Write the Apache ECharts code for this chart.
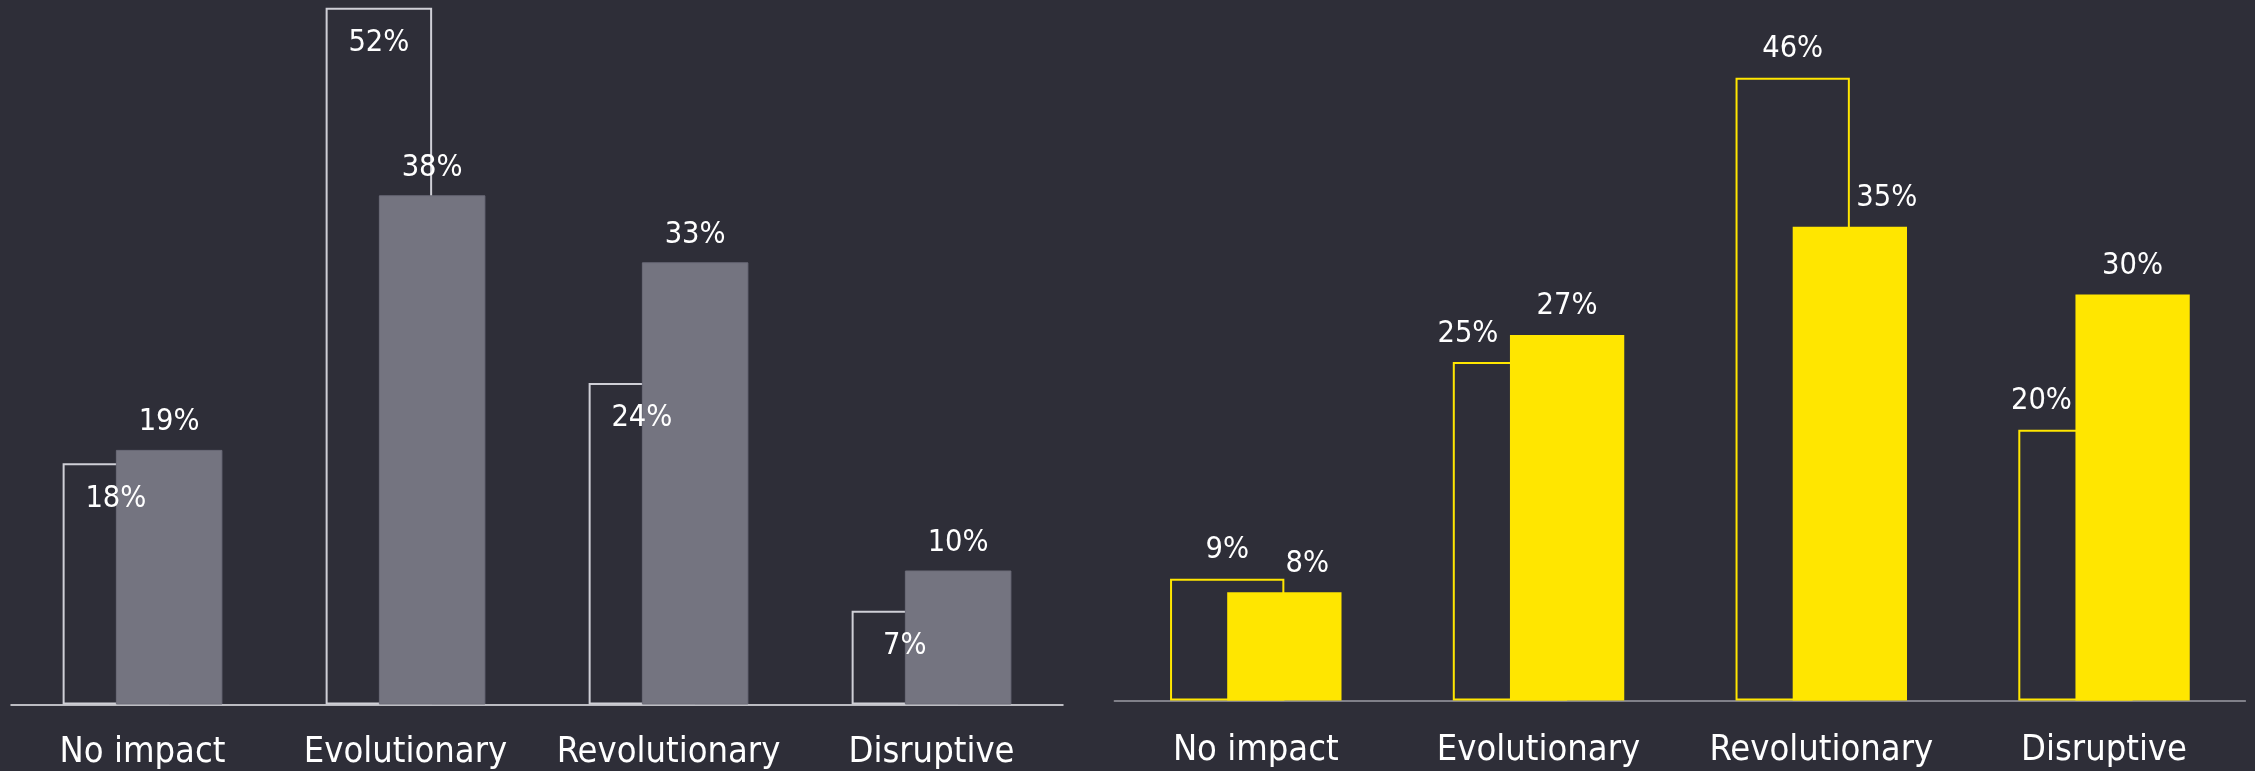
<!DOCTYPE html>
<html>
<head>
<meta charset="utf-8">
<script src="https://cdn.jsdelivr.net/npm/echarts@6/dist/echarts.min.js"></script>
<style>
  html, body { margin: 0; padding: 0; background: #2e2e38; }
  #chart { width: 2255px; height: 771px; }
</style>
</head>
<body>
<div id="chart"></div>
<script>
// ---- Data ----
const categories = ['No impact', 'Evolutionary', 'Revolutionary', 'Disruptive'];
const leftOutline  = [18, 52, 24, 7];
const leftFilled   = [19, 38, 33, 10];
const rightOutline = [9, 25, 46, 20];
const rightFilled  = [8, 27, 35, 30];

// ---- Style (label nudges to avoid overlaps) ----
const rightOutlineLabelDx = [0, -42, 0, -34];
const rightFilledLabelDx  = [23, 0, 37, 0];

const FONT = "'DejaVu Sans Condensed', 'DejaVu Sans', sans-serif";
const pct = p => p.value + '%';

function withDx(values, dxs) {
  return values.map((v, i) => ({ value: v, label: { offset: [dxs[i], 0] } }));
}

const labelBase = { show: true, color: '#ffffff', fontSize: 30.5, fontFamily: FONT, formatter: pct };

const chart = echarts.init(document.getElementById('chart'), null, { renderer: 'canvas' });
chart.setOption({
  backgroundColor: '#2e2e38',
  animation: false,
  grid: [
    { left: 11, top: 7.7, width: 1052, height: 697.8 },
    { left: 1114.4, top: 23.6, width: 1131, height: 677 }
  ],
  xAxis: [
    {
      type: 'category', gridIndex: 0, data: categories,
      axisTick: { show: false },
      axisLine: { lineStyle: { color: '#ececf0', width: 1.5 } },
      axisLabel: { color: '#ffffff', fontSize: 36, fontFamily: FONT, margin: 30.5, interval: 0 }
    },
    {
      type: 'category', gridIndex: 1, data: categories,
      axisTick: { show: false },
      axisLine: { lineStyle: { color: '#9c9ca4', width: 1.5 } },
      axisLabel: { color: '#ffffff', fontSize: 36, fontFamily: FONT, margin: 32, interval: 0 }
    }
  ],
  yAxis: [
    { type: 'value', gridIndex: 0, min: 0, max: 52, show: false, splitLine: { show: false } },
    { type: 'value', gridIndex: 1, min: 0, max: 50, show: false, splitLine: { show: false } }
  ],
  series: [
    {
      type: 'bar', xAxisIndex: 0, yAxisIndex: 0, data: leftOutline,
      barWidth: 106.5, barGap: '-50%',
      itemStyle: { color: 'rgba(0,0,0,0)', borderColor: '#cfcfd6', borderWidth: 2 },
      label: Object.assign({}, labelBase, { position: 'insideTop', distance: 20 })
    },
    {
      type: 'bar', xAxisIndex: 0, yAxisIndex: 0, data: leftFilled,
      barWidth: 106.5, barGap: '-50%',
      itemStyle: { color: '#747480', borderColor: '#6c6c78', borderWidth: 1 },
      label: Object.assign({}, labelBase, { position: 'top', distance: 12 })
    },
    {
      type: 'bar', xAxisIndex: 1, yAxisIndex: 1, data: withDx(rightOutline, rightOutlineLabelDx),
      barWidth: 114.3, barGap: '-50%',
      itemStyle: { color: 'rgba(0,0,0,0)', borderColor: '#ffe600', borderWidth: 2 },
      label: Object.assign({}, labelBase, { position: 'top', distance: 13 })
    },
    {
      type: 'bar', xAxisIndex: 1, yAxisIndex: 1, data: withDx(rightFilled, rightFilledLabelDx),
      barWidth: 114.3, barGap: '-50%',
      itemStyle: { color: '#ffe600' },
      label: Object.assign({}, labelBase, { position: 'top', distance: 13 })
    }
  ]
});
</script>
</body>
</html>
